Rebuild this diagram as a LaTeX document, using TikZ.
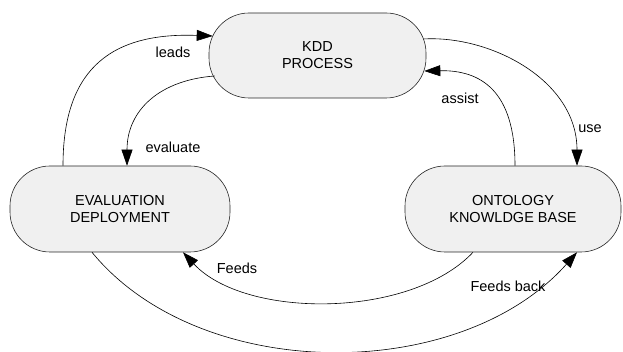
\documentclass[tikz,border=0pt]{standalone}
\usepackage{fontspec}
\setmainfont{Liberation Sans}
\usepackage{xcolor}
\usepackage{tikz}
\usetikzlibrary{positioning, arrows.meta}

\definecolor{boxfill}{HTML}{F0F0F0}

\begin{document}
\begin{tikzpicture}[x=1pt, y=1pt,
    stage/.style={draw=black!85, fill=boxfill, line width=0.6pt, rounded corners=40pt,
        align=center, font=\fontsize{14.5}{17}\selectfont, inner sep=0pt},
    link/.style={line width=0.6pt, -{Triangle[length=16pt, width=11pt]}},
    lbl/.style={font=\fontsize{14.5}{17}\selectfont, inner sep=0pt}]
\useasboundingbox (0,0) rectangle (623,352);

\node[stage, minimum width=217pt, minimum height=85pt] (kdd) at (317.5,296.5) {KDD\\PROCESS};
\node[stage, minimum width=220pt, minimum height=86pt] (eval) at (120,143) {EVALUATION\\DEPLOYMENT};
\node[stage, minimum width=216pt, minimum height=86pt] (onto) at (513,143) {ONTOLOGY\\KNOWLDGE BASE};

\draw[link] ([xshift=-57pt]eval.north) .. controls (63,277) and (105,320) .. ([shift={(4pt,19.5pt)}]kdd.west);
\draw[link] ([shift={(6pt,-20.5pt)}]kdd.west) .. controls (160,272) and (127,242) .. ([xshift=7pt]eval.north);
\draw[link] ([shift={(-3pt,16.5pt)}]kdd.east) .. controls (490,317) and (577,272) .. ([xshift=64pt]onto.north);
\draw[link] ([xshift=2pt]onto.north) .. controls (515,262) and (480,282) .. ([shift={(-2pt,-15.5pt)}]kdd.east);
\draw[link] ([xshift=-40pt]onto.south) .. controls (410,33) and (245,33) .. ([xshift=63pt]eval.south);
\draw[link] ([xshift=-28pt]eval.south) .. controls (200,-32) and (460,-32) .. ([xshift=64pt]onto.south);

\node[lbl] (leads) at (173,300) {leads};
\node[lbl] (evaluate) at (173,205) {evaluate};
\node[lbl] (use) at (590,223) {use};
\node[lbl] (assist) at (460,254) {assist};
\node[lbl] (feeds) at (237,84) {Feeds};
\node[lbl] (feedsback) at (508,66) {Feeds back};
\end{tikzpicture}
\end{document}
